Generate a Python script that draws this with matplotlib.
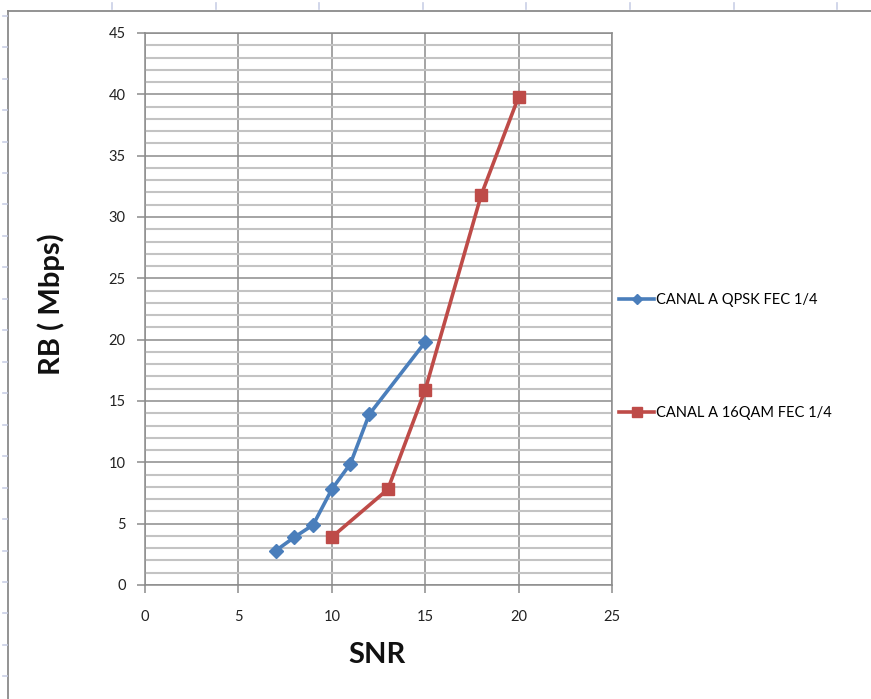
import numpy as np
import matplotlib
matplotlib.use("Agg")
import matplotlib.pyplot as plt
from matplotlib.lines import Line2D

plt.rcParams['font.family'] = ['Lato', 'DejaVu Sans']

# Throughput versus SNR for the two channel configurations
qpsk_snr = [7, 8, 9, 10, 11, 12, 15]
qpsk_rb = [2.8, 3.9, 4.9, 7.8, 9.9, 13.9, 19.8]
qam_snr = [10, 13, 15, 18, 20]
qam_rb = [3.9, 7.8, 15.9, 31.8, 39.8]

series_labels = ["CANAL A QPSK FEC 1/4", "CANAL A 16QAM FEC 1/4"]
x_label = "SNR"
y_label = "RB ( Mbps)"

W, H = 871, 699
fig = plt.figure(figsize=(W / 100, H / 100), dpi=100)

# worksheet-style frame around the chart area
frame_col = "#8a8a8a"
fig.add_artist(Line2D([8 / W, 8 / W], [0, 1 - 11 / H], color=frame_col, lw=1.3))
fig.add_artist(Line2D([8 / W, 1], [1 - 11 / H, 1 - 11 / H], color=frame_col, lw=1.3))
for yy in np.arange(15.7, H, 31.46):
    fig.add_artist(Line2D([3 / W, 7 / W], [1 - yy / H] * 2, color="#c9cfe6", lw=1.2))
for xx in np.arange(112, W, 103.6):
    fig.add_artist(Line2D([xx / W] * 2, [1 - 3 / H, 1 - 9 / H], color="#c9cfe6", lw=1.2))

ax = fig.add_axes([145 / W, 1 - 585 / H, (612 - 145) / W, (585 - 33) / H])

major_col = "#8c8c8c"
minor_col = "#c3c3c3"
ax.set_xlim(0, 25)
ax.set_ylim(0, 45)
ax.set_xticks(np.arange(0, 26, 5))
ax.set_yticks(np.arange(0, 46, 5))
ax.set_yticks(np.arange(0, 46, 1), minor=True)

ax.grid(True, which="minor", axis="y", color=minor_col, lw=1.5)
ax.grid(True, which="major", axis="both", color=major_col, lw=1.1)
ax.set_axisbelow(True)
for s in ax.spines.values():
    s.set_color(major_col)
    s.set_linewidth(1.1)

ax.tick_params(axis="both", which="major", direction="out", length=6, width=1.1,
               color=major_col, labelsize=10.5, labelcolor="#222222")
ax.tick_params(axis="y", which="minor", length=0)
ax.tick_params(axis="x", pad=12)
ax.tick_params(axis="y", pad=8)

ax.plot(qpsk_snr, qpsk_rb, color="#4A7EBB", lw=2.6, marker="D", ms=7,
        label=series_labels[0])
ax.plot(qam_snr, qam_rb, color="#BE4B48", lw=2.6, marker="s", ms=9,
        label=series_labels[1])

fig.text(377 / W, 1 - 655 / H, x_label, ha="center", va="center",
         fontsize=21, fontweight="bold", color="#111111")
fig.text(51 / W, 1 - 304 / H, y_label, ha="center", va="center", rotation=90,
         fontsize=21, fontweight="bold", color="#111111")

leg = fig.legend(loc="upper left", bbox_to_anchor=(606 / W, 1 - 280 / H),
                 frameon=False, fontsize=10.5, labelspacing=6.78,
                 handlelength=2.4, handletextpad=0.15, markerscale=0.8)

fig.savefig("out.png", dpi=100)
